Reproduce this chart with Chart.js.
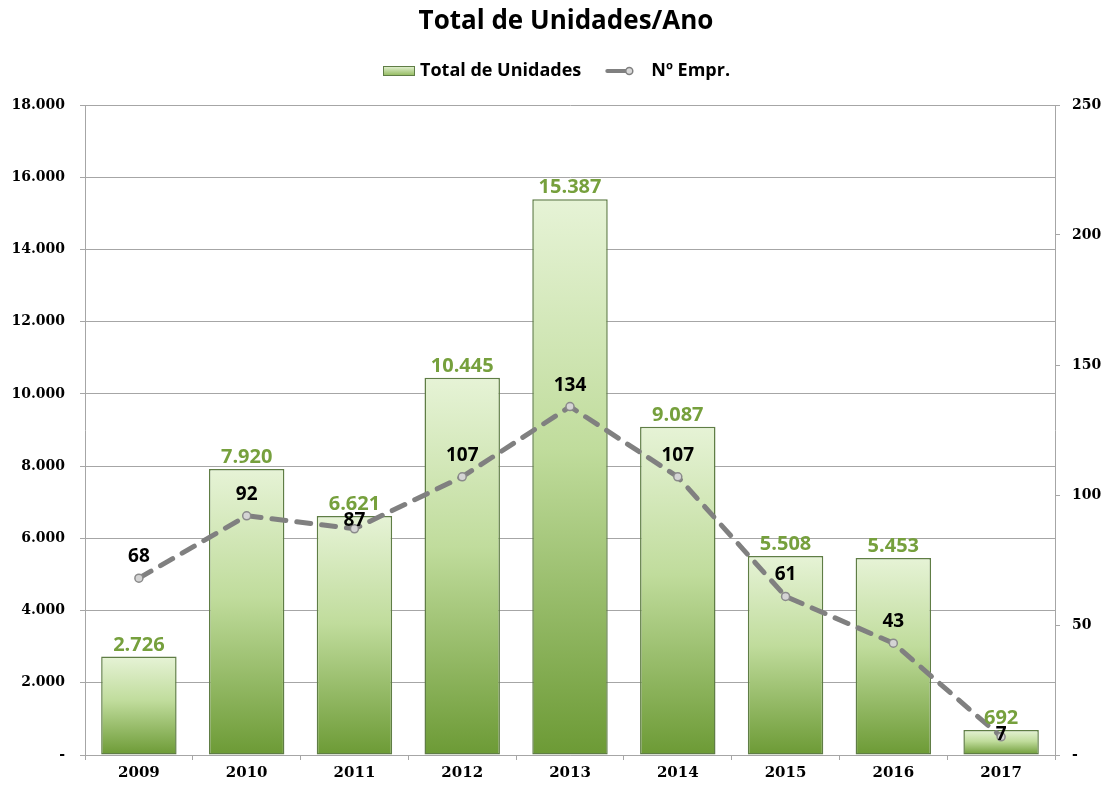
<!DOCTYPE html>
<html>
<head>
<meta charset="utf-8">
<title>Total de Unidades/Ano</title>
<script src="https://cdn.jsdelivr.net/npm/chart.js@4.4.0/dist/chart.umd.min.js"></script>
<style>
  html, body { margin: 0; padding: 0; background: #fff; }
  #wrap { width: 1106px; height: 787px; }
</style>
</head>
<body>
<div id="wrap"><canvas id="chart"></canvas></div>
<script>
// Data
const years = ['2009', '2010', '2011', '2012', '2013', '2014', '2015', '2016', '2017'];
const totalUnidades = [2726, 7920, 6621, 10445, 15387, 9087, 5508, 5453, 692];
const numEmpr = [68, 92, 87, 107, 134, 107, 61, 43, 7];

const leftTicks = [0, 2000, 4000, 6000, 8000, 10000, 12000, 14000, 16000, 18000];
const rightTicks = [0, 50, 100, 150, 200, 250];

const titleText = 'Total de Unidades/Ano';
const barLabel = 'Total de Unidades';
const lineLabel = 'Nº Empr.';

// Styles
const GRID = '#a6a6a6';
const LABEL_GREEN = '#76a03d';
const TICK_FONT = { family: "'DejaVu Serif', serif", size: 14, weight: 'bold' };
const SANS = "'Open Sans', 'Liberation Sans', sans-serif";

function fmtThousands(v) {
    if (v === 0) return '-';
    return v.toString().replace(/\B(?=(\d{3})+(?!\d))/g, '.');
}

// each bar gets its own vertical gradient, light on top, dark at the base
function barGradient(context) {
    const chart = context.chart;
    const scale = chart.scales && chart.scales.y;
    if (!chart.chartArea || !scale || !context.parsed) return '#b5d68f';
    const top = scale.getPixelForValue(context.parsed.y);
    const base = scale.getPixelForValue(0);
    if (!isFinite(top) || Math.abs(base - top) < 1) return '#b5d68f';
    const g = chart.ctx.createLinearGradient(0, top, 0, base);
    g.addColorStop(0, '#e6f3d6');
    g.addColorStop(0.45, '#c0dc9c');
    g.addColorStop(1, '#6c9a35');
    return g;
}

// Title + legend drawn above the plot area
const headerPlugin = {
    id: 'header',
    afterDraw(chart) {
        const ctx = chart.ctx;
        ctx.save();
        ctx.fillStyle = '#000';
        ctx.textAlign = 'center';
        ctx.textBaseline = 'middle';
        ctx.font = 'bold 26px ' + SANS;
        ctx.fillText(titleText, 566, 22);

        // legend row
        ctx.font = 'bold 18px ' + SANS;
        ctx.textAlign = 'left';
        const y = 71;
        const w1 = ctx.measureText(barLabel).width;
        let x = 383;

        const g = ctx.createLinearGradient(0, y - 5, 0, y + 5);
        g.addColorStop(0, '#e6f3d6');
        g.addColorStop(1, '#8fb85a');
        ctx.fillStyle = g;
        ctx.fillRect(x, y - 5, 32, 10);
        ctx.strokeStyle = '#5f7d45';
        ctx.lineWidth = 1;
        ctx.strokeRect(x + 0.5, y - 4.5, 31, 9);
        x += 37;
        ctx.fillStyle = '#000';
        ctx.fillText(barLabel, x, y);
        x += w1 + 26;

        ctx.strokeStyle = '#808080';
        ctx.lineWidth = 4;
        ctx.lineCap = 'round';
        ctx.beginPath();
        ctx.moveTo(x, y);
        ctx.lineTo(x + 22, y);
        ctx.stroke();
        ctx.beginPath();
        ctx.arc(x + 22, y, 3.5, 0, Math.PI * 2);
        ctx.fillStyle = '#d9d9d9';
        ctx.fill();
        ctx.lineWidth = 1.5;
        ctx.stroke();
        x += 28 + 16;
        ctx.fillStyle = '#000';
        ctx.fillText(lineLabel, x, y);
        ctx.restore();
    }
};

// value labels over the bars (green) and over the line points (black)
const valueLabels = {
    id: 'valueLabels',
    afterDatasetsDraw(chart) {
        const ctx = chart.ctx;
        const barMeta = chart.getDatasetMeta(0);
        const lineMeta = chart.getDatasetMeta(1);
        ctx.save();
        ctx.textAlign = 'center';
        ctx.textBaseline = 'alphabetic';

        const barBoxes = [];
        ctx.font = 'bold 20px ' + SANS;
        ctx.fillStyle = LABEL_GREEN;
        barMeta.data.forEach((bar, i) => {
            const yText = bar.y - 6;
            ctx.fillText(fmtThousands(totalUnidades[i]), bar.x, yText);
            barBoxes.push({ top: yText - 15, bottom: yText + 1 });
        });

        ctx.font = 'bold 19px ' + SANS;
        ctx.fillStyle = '#000';
        lineMeta.data.forEach((pt, i) => {
            let yText = pt.y - 16;
            const b = barBoxes[i];
            // push the label under the bar value when the two would collide
            if (yText > b.top && yText - 14 < b.bottom) yText = b.bottom + 15;
            ctx.fillText(String(numEmpr[i]), pt.x, yText);
        });
        ctx.restore();
    }
};

new Chart(document.getElementById('chart'), {
    data: {
        labels: years,
        datasets: [
            {
                type: 'bar',
                label: barLabel,
                data: totalUnidades,
                yAxisID: 'y',
                backgroundColor: barGradient,
                borderColor: '#5f7d45',
                borderWidth: 1.5,
                borderSkipped: false,
                categoryPercentage: 1,
                barPercentage: 0.7,
                order: 2
            },
            {
                type: 'line',
                label: lineLabel,
                data: numEmpr,
                yAxisID: 'y1',
                borderColor: '#808080',
                borderWidth: 5,
                borderDash: [14, 11],
                borderCapStyle: 'round',
                tension: 0,
                pointRadius: 4,
                pointBackgroundColor: '#d4d4d4',
                pointBorderColor: '#8a8a8a',
                pointBorderWidth: 1.5,
                order: 1
            }
        ]
    },
    options: {
        responsive: true,
        maintainAspectRatio: false,
        animation: false,
        layout: { padding: { top: 105, left: 0, right: 0, bottom: 0 } },
        plugins: {
            legend: { display: false },
            title: { display: false },
            tooltip: { enabled: false }
        },
        scales: {
            x: {
                offset: true,
                grid: {
                    offset: true,
                    drawOnChartArea: false,
                    drawTicks: true,
                    tickLength: 5,
                    color: GRID
                },
                border: { display: true, color: GRID },
                ticks: { color: '#000', font: { ...TICK_FONT, size: 15 }, padding: 4 },
                afterFit(scale) { scale.height = 32; }
            },
            y: {
                position: 'left',
                min: 0,
                max: 18000,
                afterBuildTicks(scale) { scale.ticks = leftTicks.map(v => ({ value: v })); },
                grid: { color: GRID, tickLength: 5 },
                border: { display: true, color: GRID },
                ticks: {
                    color: '#000',
                    font: TICK_FONT,
                    padding: 15,
                    callback: v => fmtThousands(v)
                },
                afterFit(scale) { scale.width = 85; }
            },
            y1: {
                position: 'right',
                min: 0,
                max: 250,
                afterBuildTicks(scale) { scale.ticks = rightTicks.map(v => ({ value: v })); },
                grid: { drawOnChartArea: false, color: GRID, tickLength: 5 },
                border: { display: true, color: GRID },
                ticks: {
                    color: '#000',
                    font: TICK_FONT,
                    padding: 12,
                    callback: v => (v === 0 ? '-' : String(v))
                },
                afterFit(scale) { scale.width = 51; }
            }
        }
    },
    plugins: [headerPlugin, valueLabels]
});
</script>
</body>
</html>
